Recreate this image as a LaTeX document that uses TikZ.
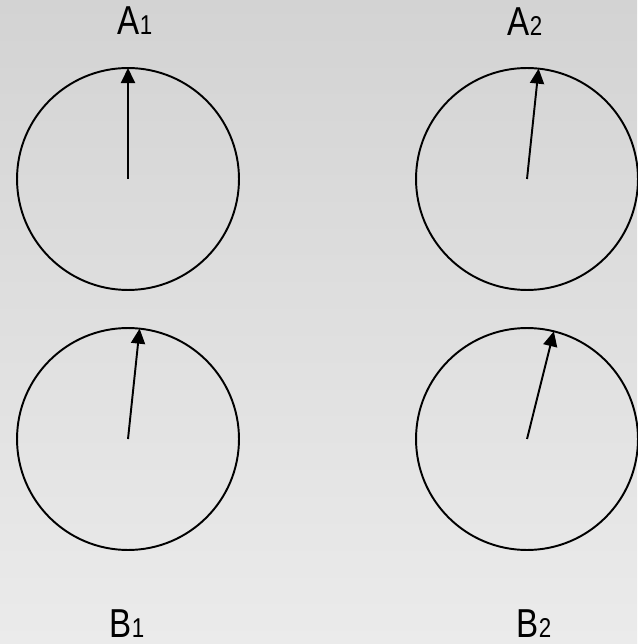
\documentclass[tikz,border=0pt]{standalone}
\usepackage{fontspec}
\setmainfont{Liberation Sans}[FakeStretch=0.82]
\usepackage{tikz}
\usetikzlibrary{arrows.meta}
\definecolor{dlTop}{HTML}{D3D3D3}
\definecolor{dlMid}{HTML}{E4E4E4}
\definecolor{dlBot}{HTML}{EBEBEB}
\tikzset{
  dial/.style={
    draw, circle, minimum size=4.44cm, inner sep=0pt, outer sep=0pt,
    line width=1.1pt
  },
  needle/.style={-{Triangle[length=3mm, width=2.8mm]}, line width=1.1pt},
  dialtag/.style={font=\fontsize{23}{26}\selectfont, anchor=base, inner sep=0pt}
}
\newcommand{\dialsub}[1]{{\fontsize{15.5}{18}\selectfont #1}}

\begin{document}
\begin{tikzpicture}[x=0.02cm, y=-0.02cm]
  \shade[top color=dlTop, middle color=dlMid, bottom color=dlBot] (0,0) rectangle (637,644);
  \useasboundingbox (0,0) rectangle (637,644);
  \node[dial] (A1) at (128,179) {};
  \node[dial] (A2) at (527,179) {};
  \node[dial] (B1) at (128,439) {};
  \node[dial] (B2) at (527,439) {};
  \draw[needle] (A1.center) -- (A1.90);
  \draw[needle] (A2.center) -- (A2.84);
  \draw[needle] (B1.center) -- (B1.84);
  \draw[needle] (B2.center) -- (B2.76);
  \node[dialtag] (tagA1) at (135,35) {A\dialsub{1}};
  \node[dialtag] (tagA2) at (525,36) {A\dialsub{2}};
  \node[dialtag] (tagB1) at (127,637) {B\dialsub{1}};
  \node[dialtag] (tagB2) at (534,637) {B\dialsub{2}};
\end{tikzpicture}
\end{document}
